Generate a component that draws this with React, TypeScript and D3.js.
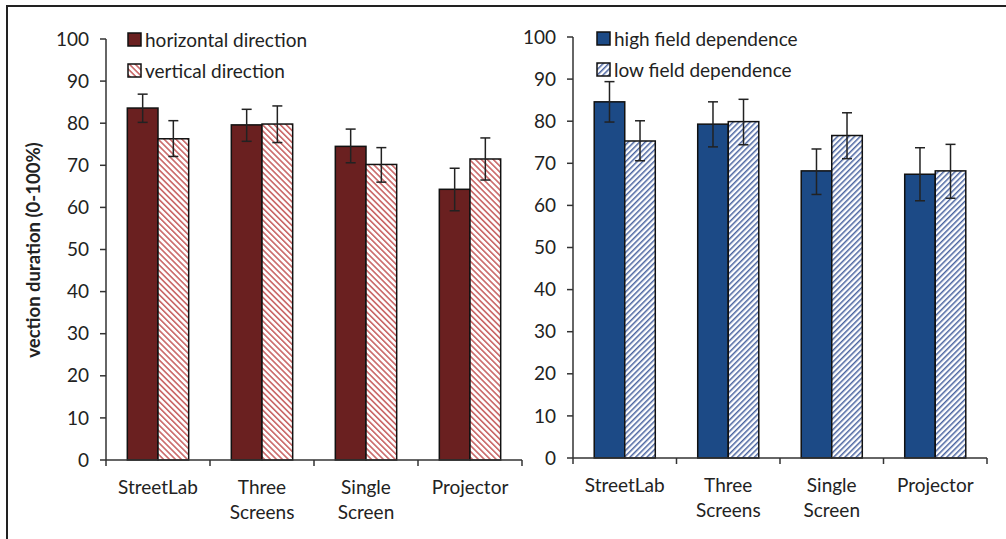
import React from 'react';
import * as d3 from 'd3';

const categories = ['StreetLab', 'Three Screens', 'Single Screen', 'Projector'];
const categoryLines = [['StreetLab'], ['Three', 'Screens'], ['Single', 'Screen'], ['Projector']];
const yTicks = [0, 10, 20, 30, 40, 50, 60, 70, 80, 90, 100];

// left panel
const horizontalMean = [83.6, 79.6, 74.5, 64.3];
const horizontalLow = [80.2, 75.7, 70.6, 59.2];
const horizontalHigh = [86.9, 83.3, 78.6, 69.3];
const verticalMean = [76.3, 79.8, 70.2, 71.5];
const verticalLow = [72.1, 75.4, 66.0, 66.5];
const verticalHigh = [80.6, 84.1, 74.2, 76.5];

// right panel
const highFdMean = [84.6, 79.3, 68.2, 67.4];
const highFdLow = [79.8, 73.9, 62.6, 61.1];
const highFdHigh = [89.4, 84.6, 73.4, 73.7];
const lowFdMean = [75.3, 79.9, 76.6, 68.2];
const lowFdLow = [70.6, 74.4, 71.1, 61.7];
const lowFdHigh = [80.1, 85.2, 82.0, 74.5];

const FONT = 'Lato, "Open Sans", sans-serif';
const FS = 19;

interface Series {
  name: string;
  mean: number[];
  low: number[];
  high: number[];
  fill: string;
}

interface PanelProps {
  x0: number;
  x1: number;
  y0: number;
  y100: number;
  series: Series[];
  legendX: number;
  legendY: number;
}

const Panel: React.FC<PanelProps> = ({ x0, x1, y0, y100, series, legendX, legendY }) => {
  const x = d3.scaleBand<string>().domain(categories).range([x0, x1]).paddingInner(0.41).paddingOuter(0.205);
  const sub = d3.scaleBand<string>().domain(series.map((s) => s.name)).range([0, x.bandwidth()]);
  const y = d3.scaleLinear().domain([0, 100]).range([y0, y100]);
  const step = x.step();

  return (
    <g>
      {series.map((s) =>
        categories.map((c, i) => {
          const bx = (x(c) ?? 0) + (sub(s.name) ?? 0);
          const cx = bx + sub.bandwidth() / 2;
          return (
            <g key={s.name + c}>
              <rect x={bx} y={y(s.mean[i])} width={sub.bandwidth()} height={y(0) - y(s.mean[i])}
                fill={s.fill} stroke="#111" strokeWidth={1.5} />
              <line x1={cx} x2={cx} y1={y(s.low[i])} y2={y(s.high[i])} stroke="#222" strokeWidth={1.5} />
              <line x1={cx - 5} x2={cx + 5} y1={y(s.low[i])} y2={y(s.low[i])} stroke="#222" strokeWidth={1.5} />
              <line x1={cx - 5} x2={cx + 5} y1={y(s.high[i])} y2={y(s.high[i])} stroke="#222" strokeWidth={1.5} />
            </g>
          );
        })
      )}
      {/* y axis */}
      <line x1={x0} x2={x0} y1={y(0)} y2={y(100)} stroke="#333" strokeWidth={1.5} />
      {yTicks.map((t) => (
        <g key={t}>
          <line x1={x0 - 6} x2={x0} y1={y(t)} y2={y(t)} stroke="#333" strokeWidth={1.5} />
          <text x={x0 - 17} y={y(t)} dy="0.35em" textAnchor="end" fontSize={FS} fontFamily={FONT} fill="#222">{t}</text>
        </g>
      ))}
      {/* x axis */}
      <line x1={x0} x2={x1} y1={y(0)} y2={y(0)} stroke="#333" strokeWidth={1.5} />
      {d3.range(categories.length + 1).map((i) => (
        <line key={i} x1={x0 + i * step} x2={x0 + i * step} y1={y(0)} y2={y(0) + 6} stroke="#333" strokeWidth={1.5} />
      ))}
      {categories.map((c, i) => (
        <text key={c} x={(x(c) ?? 0) + x.bandwidth() / 2} y={y(0) + 34} textAnchor="middle"
          fontSize={FS} fontFamily={FONT} fill="#222">
          {categoryLines[i].map((l, j) => (
            <tspan key={l} x={(x(c) ?? 0) + x.bandwidth() / 2} dy={j === 0 ? 0 : 25}>{l}</tspan>
          ))}
        </text>
      ))}
      {/* legend */}
      {series.map((s, i) => (
        <g key={s.name} transform={`translate(${legendX},${legendY + i * 31})`}>
          <rect x={0} y={0} width={13} height={13} fill={s.fill} stroke="#111" strokeWidth={1.5} />
          <text x={17} y={7} dy="0.35em" fontSize={FS} fontFamily={FONT} fill="#222">{s.name}</text>
        </g>
      ))}
    </g>
  );
};

const App: React.FC = () => {
  const leftSeries: Series[] = [
    { name: 'horizontal direction', mean: horizontalMean, low: horizontalLow, high: horizontalHigh, fill: '#6a2020' },
    { name: 'vertical direction', mean: verticalMean, low: verticalLow, high: verticalHigh, fill: 'url(#hatchRed)' },
  ];
  const rightSeries: Series[] = [
    { name: 'high field dependence', mean: highFdMean, low: highFdLow, high: highFdHigh, fill: '#1c4a86' },
    { name: 'low field dependence', mean: lowFdMean, low: lowFdLow, high: lowFdHigh, fill: 'url(#hatchBlue)' },
  ];

  return (
    <svg width={1006} height={539} style={{ position: 'absolute', left: 0, top: 0, background: '#fff' }}>
      <defs>
        <pattern id="hatchRed" width={4.2} height={4.2} patternUnits="userSpaceOnUse" patternTransform="rotate(-45)">
          <rect width={4.2} height={4.2} fill="#fff" />
          <rect width={1.6} height={4.2} fill="#c96767" />
        </pattern>
        <pattern id="hatchBlue" width={4} height={4} patternUnits="userSpaceOnUse" patternTransform="rotate(45)">
          <rect width={4} height={4} fill="#fff" />
          <rect width={1.5} height={4} fill="#4a64a0" />
        </pattern>
      </defs>
      <rect x={0} y={0} width={1006} height={539} fill="#fff" />
      <line x1={6} x2={1006} y1={6} y2={6} stroke="#222" strokeWidth={2} />
      <line x1={7} x2={7} y1={6} y2={539} stroke="#222" strokeWidth={2} />
      <text transform="translate(40,250) rotate(-90)" textAnchor="middle" fontSize={18.5} fontWeight="bold"
        fontFamily={FONT} fill="#222">vection duration (0-100%)</text>
      <Panel x0={106} x1={522} y0={460} y100={39} series={leftSeries} legendX={128} legendY={33} />
      <Panel x0={573} x1={987} y0={458} y100={37} series={rightSeries} legendX={597} legendY={32} />
    </svg>
  );
};

export default App;
